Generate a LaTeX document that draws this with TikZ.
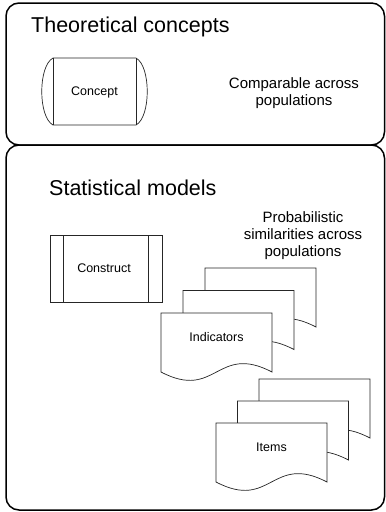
\documentclass[tikz,border=0pt]{standalone}
\usepackage{fontspec}
\setmainfont{Liberation Sans}

% one sheet of a document stack: top left corner
\newcommand{\docsheet}[2]{%
  \begin{scope}[shift={(#1,#2)}]
    \draw[sheet] (0,0) -- (111,0) -- (111,59)
      .. controls (55.5,30) and (55.5,88) .. (0,59) -- cycle;
  \end{scope}%
}

\begin{document}
\begin{tikzpicture}[x=1pt,y=-1pt,
  frame/.style={line width=1.5pt,rounded corners=13pt},
  sheet/.style={line width=0.7pt,draw=black!85,fill=white},
  heading/.style={anchor=base west,inner sep=0pt,font=\fontsize{21.5}{26}\selectfont},
  note/.style={align=center,inner sep=0pt,font=\fontsize{15}{17}\selectfont},
  boxtext/.style={inner sep=0pt,font=\fontsize{12.5}{15}\selectfont}]
  \useasboundingbox (0,0) rectangle (386,512);

  % the two panels
  \draw[frame] (6,3) rectangle (384.5,145);
  \draw[frame] (6,145) rectangle (384.5,510);

  % Theoretical concepts
  \node[heading] (theo) at (31,32) {Theoretical concepts};
  \draw[sheet] (53,58) -- (136,58)
    .. controls (151,66) and (151,117) .. (136,125) -- (53,125)
    .. controls (38,117) and (38,66) .. (53,58);
  \draw[sheet] (53,58) -- (53,125);
  \draw[sheet] (136,58) -- (136,125);
  \node[boxtext] (concept) at (94.5,92) {Concept};
  \node[note] (comparable) at (294,93) {Comparable across\\populations};

  % Statistical models
  \node[heading] (stat) at (49,195) {Statistical models};
  \draw[sheet] (50,235) rectangle (162,302);
  \draw[sheet] (63,235) -- (63,302);
  \draw[sheet] (148,235) -- (148,302);
  \node[boxtext] (construct) at (104,268) {Construct};
  \node[note] (probabilistic) at (303,236)
    {Probabilistic\\similarities across\\populations};

  % Indicators stack
  \foreach \x/\y in {205/268, 183/290.5, 161/313}
    \docsheet{\x}{\y};
  \node[boxtext] (indicators) at (216.5,337) {Indicators};

  % Items stack
  \foreach \x/\y in {259/379, 237.5/401, 216/423}
    \docsheet{\x}{\y};
  \node[boxtext] (items) at (271.5,447) {Items};
\end{tikzpicture}
\end{document}
